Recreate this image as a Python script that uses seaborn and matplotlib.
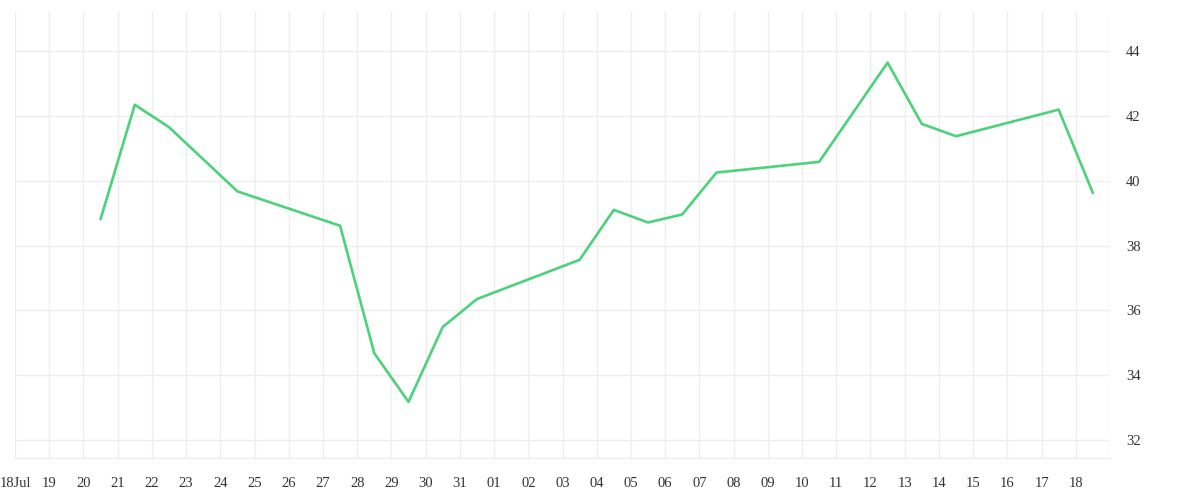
import pandas as pd
import matplotlib.pyplot as plt
import seaborn as sns

# daily readings, sampled at midday
dates = ["2024-07-20 12:00", "2024-07-21 12:00", "2024-07-22 12:00", "2024-07-24 12:00",
         "2024-07-27 12:00", "2024-07-28 12:00", "2024-07-29 12:00", "2024-07-30 12:00",
         "2024-07-31 12:00", "2024-08-03 12:00", "2024-08-04 12:00", "2024-08-05 12:00",
         "2024-08-06 12:00", "2024-08-07 12:00", "2024-08-10 12:00", "2024-08-12 12:00",
         "2024-08-13 12:00", "2024-08-14 12:00", "2024-08-17 12:00", "2024-08-18 12:00"]
values = [38.81, 42.34, 41.65, 39.67, 38.61, 34.68, 33.18, 35.49, 36.35, 37.56,
          39.10, 38.71, 38.96, 40.25, 40.58, 43.64, 41.75, 41.37, 42.19, 39.62]

x_start = "2024-07-18"
x_end = "2024-08-19"
y_ticks = [32, 34, 36, 38, 40, 42, 44]

LINE = "#4cd27a"
GRID = "#eeeeee"
TEXT = "#333333"


def main():
    sns.set_style("white")
    plt.rcParams['font.family'] = ['Liberation Serif', 'DejaVu Serif']

    df = pd.DataFrame({"date": pd.to_datetime(dates), "value": values})

    fig = plt.figure(figsize=(12, 5), dpi=100)
    ax = fig.add_axes([0.0125, 0.084, 0.9125, 0.892])

    sns.lineplot(data=df, x="date", y="value", color=LINE, linewidth=1.9, ax=ax)

    # one tick per day, first one carries the month
    tick_days = pd.date_range(x_start, x_end, freq="D")
    tick_labels = [d.strftime("%d%b") if i == 0 else d.strftime("%d") for i, d in enumerate(tick_days)]
    tick_labels[-1] = ""
    ax.set_xticks(tick_days)
    ax.set_xticklabels(tick_labels)
    ax.set_xlim(pd.Timestamp(x_start), pd.Timestamp(x_end))

    ax.set_ylim(31.45, 45.2)
    ax.set_yticks(y_ticks)
    ax.yaxis.tick_right()

    ax.grid(True, color=GRID, linewidth=1)
    ax.set_axisbelow(True)
    for side in ["top", "left", "right"]:
        ax.spines[side].set_visible(False)
    ax.spines["bottom"].set_color(GRID)
    ax.spines["bottom"].set_linewidth(1)

    ax.tick_params(axis="x", length=7.5, width=1, color=GRID, pad=6, labelsize=10.5, labelcolor=TEXT)
    ax.tick_params(axis="y", length=0, pad=11.5, labelsize=10.5, labelcolor=TEXT)
    ax.set_xlabel("")
    ax.set_ylabel("")

    fig.savefig("out.png", dpi=100)
    plt.close(fig)


if __name__ == '__main__':
    main()
